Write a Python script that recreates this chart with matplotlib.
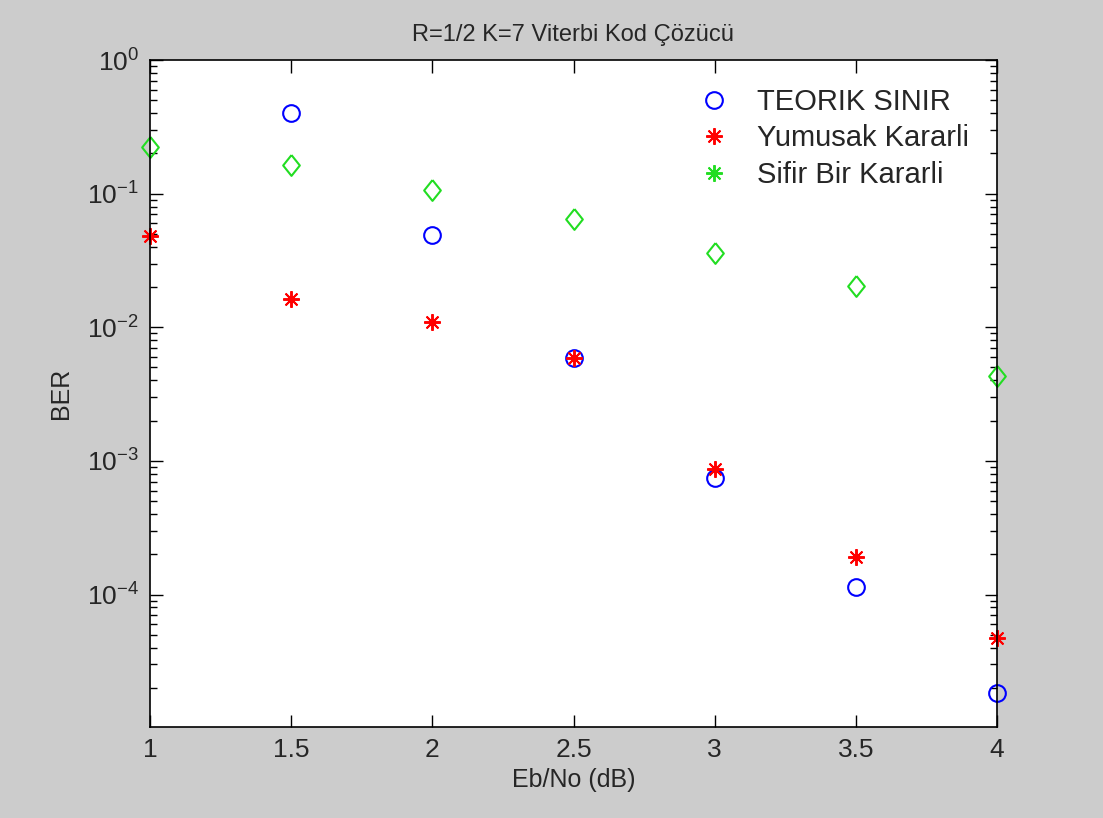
import numpy as np
import matplotlib
matplotlib.use("Agg")
import matplotlib.pyplot as plt
from matplotlib.lines import Line2D

plt.rcParams['font.family'] = ['Liberation Sans', 'DejaVu Sans']
plt.rcParams['axes.unicode_minus'] = False

# Eb/No values (dB)
ebno = [1.0, 1.5, 2.0, 2.5, 3.0, 3.5, 4.0]
ebno_teorik = [1.5, 2.0, 2.5, 3.0, 3.5, 4.0]

# BER values
ber_teorik = [0.40, 0.049, 0.0059, 7.4e-4, 1.13e-4, 1.83e-5]
ber_yumusak = [0.0483, 0.01625, 0.0109, 0.0059, 8.7e-4, 1.9e-4, 4.75e-5]
ber_sifirbir = [0.222, 0.165, 0.107, 0.0649, 0.036, 0.0203, 0.00435]

labels = ['TEORIK SINIR', 'Yumusak Kararli', 'Sifir Bir Kararli']

txt = '#262626'
blue, red, green = '#0000ff', '#ff0000', '#22dd22'
diamond = [(0, 1), (0.8, 0), (0, -1), (-0.8, 0), (0, 1)]
asterisk = (8, 2, 0)

fig = plt.figure(figsize=(11.03, 8.18), dpi=100, facecolor='#cccccc')
ax = fig.add_axes([150/1103, 1 - 727/818, 847/1103, 667/818])
ax.set_facecolor('white')

ax.semilogy(ebno_teorik, ber_teorik, 'o', ls='none', mfc='none', mec=blue,
            ms=12, mew=1.5, clip_on=False)
ax.semilogy(ebno, ber_yumusak, marker=asterisk, ls='none', color=red, ms=12,
            mew=1.4, clip_on=False)
ax.semilogy(ebno, ber_sifirbir, marker=diamond, ls='none', mfc='none', mec=green,
            ms=15, mew=1.5, clip_on=False)

ax.set_xlim(1, 4)
ax.set_ylim(1.02e-5, 1)
ax.set_xticks(ebno)
ax.set_xticklabels(['1', '1.5', '2', '2.5', '3', '3.5', '4'])

ax.tick_params(which='both', direction='in', top=True, right=True, labelsize=19,
               colors='black', labelcolor=txt, pad=8)
ax.tick_params(which='major', length=9, width=1)
ax.tick_params(which='minor', length=5, width=1)
ax.tick_params(axis='x', which='minor', top=False, bottom=False)
for s in ax.spines.values():
    s.set_linewidth(1.2)

ax.set_title('R=1/2 K=7 Viterbi Kod Çözücü', fontsize=17, color=txt, pad=14)
ax.set_xlabel('Eb/No (dB)', fontsize=18, labelpad=4, color=txt)
ax.set_ylabel('BER', fontsize=18, labelpad=10, color=txt)

handles = [
    Line2D([], [], marker='o', ls='none', mfc='none', mec=blue, ms=12, mew=1.5),
    Line2D([], [], marker=asterisk, ls='none', color=red, ms=12, mew=1.4),
    Line2D([], [], marker=asterisk, ls='none', color=green, ms=12, mew=1.4),
]
leg = ax.legend(handles, labels, loc='upper right', frameon=False, fontsize=21,
                handletextpad=0.7, handlelength=1.6, labelspacing=0.3,
                bbox_to_anchor=(1.0, 1.0), borderaxespad=0.55)
for t in leg.get_texts():
    t.set_color(txt)

fig.savefig('out.png', dpi=100, facecolor=fig.get_facecolor())
